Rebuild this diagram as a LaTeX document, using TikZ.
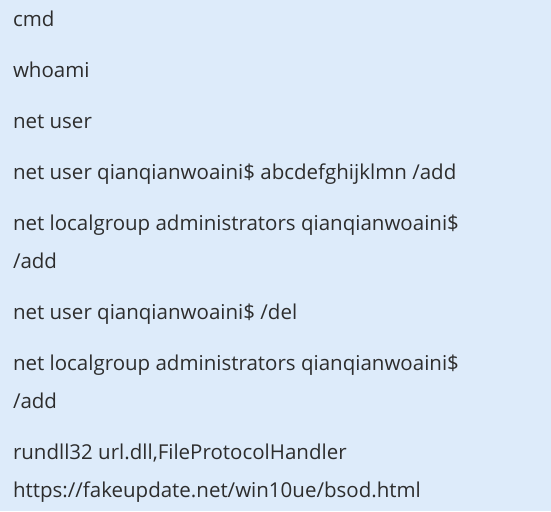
\documentclass[tikz,border=0pt]{standalone}
\usepackage{fontspec}
\setmainfont{Open Sans}
\definecolor{bg}{RGB}{221,235,250}
\definecolor{txt}{RGB}{45,45,45}
\begin{document}
\begin{tikzpicture}[x=1pt,y=-1pt,
  cmdline/.style={anchor=base west, inner sep=0pt, outer sep=0pt, text=txt, font=\fontsize{20.5}{24}\selectfont}]
\fill[bg] (0,0) rectangle (551,511);
\useasboundingbox (0,0) rectangle (551,511);
\node[cmdline] (l1) at (13,26.5) {cmd};
\node[cmdline] (l2) at (13,77.5) {whoami};
\node[cmdline] (l3) at (13,128.5) {net user};
\node[cmdline] (l4) at (13,179.5) {net user qianqianwoaini\$ abcdefghijklmn /add};
\node[cmdline] (l5) at (13,230.5) {net localgroup administrators qianqianwoaini\$};
\node[cmdline] (l5b) at (13,268.5) {/add};
\node[cmdline] (l6) at (13,319.5) {net user qianqianwoaini\$ /del};
\node[cmdline] (l7) at (13,370.5) {net localgroup administrators qianqianwoaini\$};
\node[cmdline] (l7b) at (13,408.5) {/add};
\node[cmdline] (l8) at (13,459.5) {rundll32 url.dll,FileProtocolHandler};
\node[cmdline] (l8b) at (13,497.5) {https://fakeupdate.net/win10ue/bsod.html};
\end{tikzpicture}
\end{document}
